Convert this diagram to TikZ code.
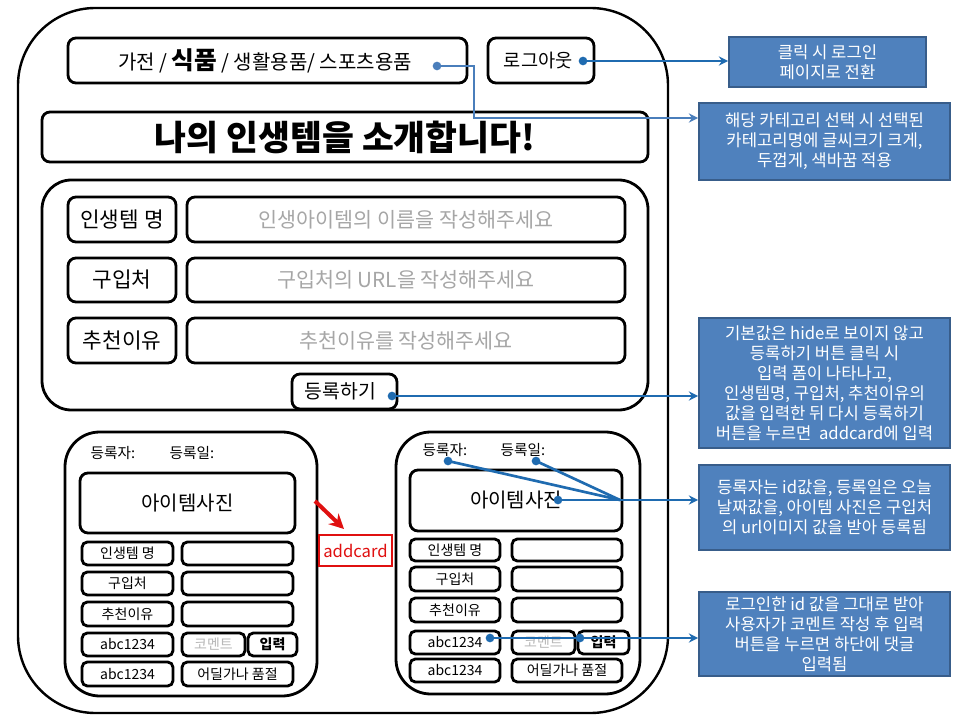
\documentclass[tikz,border=0pt]{standalone}
\usepackage{fontspec}
\setmainfont{Noto Sans CJK KR}
\usetikzlibrary{arrows.meta}
\definecolor{notefill}{HTML}{4F81BD}
\definecolor{noteline}{HTML}{385D8A}
\definecolor{conn}{HTML}{1F6BB0}
\definecolor{connlight}{HTML}{4A7EBB}
\definecolor{ph}{HTML}{A6A6A6}
\definecolor{addred}{HTML}{E01010}
\newcommand\mybox[7]{\node[#1, minimum width={(#5-#3)*0.75pt}, minimum height={(#6-#4)*0.75pt}] (#2) at ({(#3+#5)/2},{(#4+#6)/2}) {#7};}
\tikzset{
  x=0.75pt, y=-0.75pt,
  outerbox/.style={draw, line width=1.8pt, rounded corners=58pt, inner sep=0pt},
  formbox/.style={draw, line width=2.1pt, rounded corners=22pt, inner sep=0pt},
  cardbox/.style={draw, line width=2.1pt, rounded corners=26pt, inner sep=0pt},
  bigbox/.style={draw, line width=2.1pt, rounded corners=6pt, inner sep=0pt},
  rowbox/.style={draw, line width=2.1pt, rounded corners=4pt, inner sep=0pt, font=\fontsize{10.5}{12}\selectfont},
  notebox/.style={draw=noteline, line width=1.3pt, fill=notefill, text=white, inner sep=0pt, align=center, font=\fontsize{12.5}{15}\selectfont},
  connline/.style={draw=conn, line width=2pt},
  arr/.style={connline, -{Stealth[length=7pt,width=7pt]}},
  dotmark/.style={fill=conn, circle, inner sep=0pt, minimum size=6.5pt},
  lbl/.style={inner sep=0pt, font=\fontsize{11}{13}\selectfont},
}
\begin{document}
\begin{tikzpicture}
\useasboundingbox (0,0) rectangle (960,720);
\fill[white] (0,0) rectangle (960,720);
% outer frame
\mybox{outerbox}{main}{18}{8}{668}{713}{}
% top bar
\mybox{bigbox}{cat}{68}{38}{467}{83}{}
\node[inner sep=0pt, font=\fontsize{15}{17}\selectfont] (cattext) at (265,61) {가전 / {\fontsize{18.5}{20}\selectfont\bfseries 식품} / 생활용품/ 스포츠용품};
\mybox{bigbox}{logout}{488}{38}{594}{83}{\fontsize{14}{16}\selectfont 로그아웃\hspace*{4pt}}
\mybox{bigbox}{title}{42}{112}{648}{162}{\fontsize{26}{28}\selectfont\bfseries 나의 인생템을 소개합니다!}
% form
\mybox{formbox}{form}{42}{180}{648}{410}{}
\mybox{bigbox}{fl1}{68}{197}{176}{242}{\fontsize{16}{18}\selectfont 인생템 명}
\mybox{bigbox}{fl2}{68}{258}{176}{302}{\fontsize{16}{18}\selectfont 구입처}
\mybox{bigbox}{fl3}{68}{318}{176}{363}{\fontsize{16}{18}\selectfont 추천이유}
\mybox{bigbox}{fi1}{187}{197}{625}{242}{\fontsize{15.5}{17}\selectfont\color{ph} 인생아이템의 이름을 작성해주세요}
\mybox{bigbox}{fi2}{187}{258}{625}{302}{\fontsize{15.5}{17}\selectfont\color{ph} 구입처의 URL을 작성해주세요}
\mybox{bigbox}{fi3}{187}{318}{625}{363}{\fontsize{15.5}{17}\selectfont\color{ph} 추천이유를 작성해주세요}
\mybox{bigbox}{regbtn}{292}{374}{397}{409}{\fontsize{14.5}{16}\selectfont 등록하기\hspace*{6pt}}
% left card
\mybox{cardbox}{lcard}{65}{432}{317}{696}{}
\node[lbl] (lreg) at (113,453) {등록자:};
\node[lbl] (ldate) at (192,453) {등록일:};
\mybox{bigbox}{lphoto}{80}{473}{295}{533}{\fontsize{15}{17}\selectfont 아이템사진}
\mybox{rowbox}{ll1}{82}{542}{173}{565}{인생템 명}
\mybox{rowbox}{lv1}{182}{542}{293}{565}{}
\mybox{rowbox}{ll2}{82}{572}{173}{595}{구입처}
\mybox{rowbox}{lv2}{182}{572}{293}{595}{}
\mybox{rowbox}{ll3}{82}{602}{173}{626}{추천이유}
\mybox{rowbox}{lv3}{182}{602}{293}{626}{}
\mybox{rowbox}{ll4}{82}{633}{173}{656}{abc1234}
\mybox{rowbox}{lcm}{182}{633}{245}{656}{\color{ph!80}코멘트}
\mybox{rowbox}{lin}{248}{633}{297}{656}{\bfseries 입력}
\mybox{rowbox}{ll5}{82}{662}{173}{686}{abc1234}
\mybox{rowbox}{lv5}{182}{662}{293}{686}{어딜가나 품절}
% addcard
\mybox{draw=addred, line width=2pt, inner sep=0pt, text=addred}{addcard}{319}{535}{392}{566}{\fontsize{12.5}{14}\selectfont addcard}
\coordinate (ra1) at (315,501);
\coordinate (ra2) at (344,529);
\draw[draw=addred, line width=3pt, -{Stealth[length=11pt,width=11pt]}] (ra1) -- (ra2);
% right card
\mybox{cardbox}{rcard}{396}{432}{640}{694}{}
\node[lbl] (rreg) at (445,450) {등록자:};
\node[lbl] (rdate) at (523,450) {등록일:};
\mybox{bigbox}{rphoto}{410}{470}{622}{531}{\fontsize{15}{17}\selectfont 아이템사진}
\mybox{rowbox}{rl1}{410}{539}{500}{561}{인생템 명}
\mybox{rowbox}{rv1}{512}{539}{622}{561}{}
\mybox{rowbox}{rl2}{410}{567}{500}{591}{구입처}
\mybox{rowbox}{rv2}{512}{567}{622}{591}{}
\mybox{rowbox}{rl3}{410}{598}{500}{622}{추천이유}
\mybox{rowbox}{rv3}{512}{598}{622}{622}{}
\mybox{rowbox}{rl4}{410}{631}{500}{654}{abc1234}
\mybox{rowbox}{rcm}{512}{631}{575}{654}{\color{ph!80}코멘트}
\mybox{rowbox}{rin}{578}{631}{629}{654}{\bfseries 입력}
\mybox{rowbox}{rl5}{410}{659}{500}{682}{abc1234}
\mybox{rowbox}{rv5}{512}{659}{622}{682}{어딜가나 품절}
% notes
\mybox{notebox}{note1}{729}{37}{926}{87}{클릭 시 로그인\\페이지로 전환}
\mybox{notebox}{note2}{699}{103}{950}{180}{해당 카테고리 선택 시 선택된\\카테고리명에 글씨크기 크게,\\두껍게, 색바꿈 적용}
\mybox{notebox}{note3}{699}{318}{950}{448}{기본값은 hide로 보이지 않고\\등록하기 버튼 클릭 시\\입력 폼이 나타나고,\\인생템명, 구입처, 추천이유의\\값을 입력한 뒤 다시 등록하기\\버튼을 누르면 \ addcard에 입력}
\mybox{notebox}{note4}{699}{465}{950}{550}{등록자는 id값을, 등록일은 오늘\\날짜값을, 아이템 사진은 구입처\\의 url이미지 값을 받아 등록됨}
\mybox{notebox}{note5}{699}{592}{950}{676}{로그인한 id 값을 그대로 받아\\사용자가 코멘트 작성 후 입력\\버튼을 누르면 하단에 댓글\\입력됨}
% connectors
\node[dotmark, fill=connlight] (catdot) at (437,66) {};
\coordinate (catturn) at (474,118);
\draw[arr, draw=connlight] (catdot.center) -| (catturn) -- (note2.west |- catturn);
\node[dotmark] (logdot) at (583,61) {};
\draw[arr] (logdot.center) -- (note1.west |- logdot);
\node[dotmark] (regdot) at (392,396) {};
\draw[arr] (regdot.center) -- (note3.west |- regdot);
\node[dotmark] (rregdot) at (448,461) {};
\node[dotmark] (rdatedot) at (536,461) {};
\node[dotmark] (rphotodot) at (558,500) {};
\coordinate (jn) at (620,500);
\draw[connline] (rregdot.center) -- (jn);
\draw[connline] (rdatedot.center) -- (jn);
\draw[connline] (rphotodot.center) -- (jn);
\draw[arr] (jn) -- (note4.west |- jn);
\node[dotmark] (abcdot) at (490,638) {};
\node[dotmark] (indot) at (580,638) {};
\draw[arr] (abcdot.center) -- (note5.west |- abcdot);
\end{tikzpicture}
\end{document}
